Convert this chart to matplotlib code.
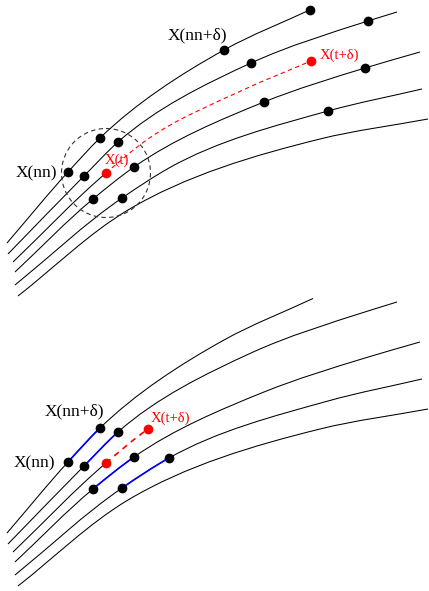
import numpy as np
import matplotlib
matplotlib.use("Agg")
import matplotlib.pyplot as plt
from matplotlib.path import Path
from matplotlib.patches import PathPatch, Circle

# trajectories, top-panel pixel coords (y down); bottom panel is the same shifted by 290
traj1_x = [7, 68, 100, 224, 313]
traj1_y = [243, 172, 138, 50, 8.5]
traj2_x = [8, 84, 118, 251, 368, 397]
traj2_y = [254, 176, 142, 63, 21, 12]
traj3_x = [13, 106, 148, 243, 311]   # trajectory of X(t)
traj3_y = [262, 173, 139, 90, 61]
traj4_x = [15, 93, 134, 264, 365, 420]
traj4_y = [272, 199, 167, 102, 68, 52]
traj5_x = [15, 122, 169, 328, 422]
traj5_y = [285, 198, 168, 111, 89]
traj6_x = [18, 128, 320, 428]
traj6_y = [296, 210, 139, 119]

# neighbours and their images
top_dots_x = [68, 100, 224, 310, 84, 118, 251, 368, 93, 134, 264, 365, 122, 328]
top_dots_y = [172, 138, 50, 10, 176, 142, 63, 21, 199, 167, 102, 68, 198, 111]
top_red_x = [106, 311]
top_red_y = [173, 61]
bot_dots_x = [68, 100, 84, 118, 93, 134, 122, 169]
bot_dots_y = [172, 138, 176, 142, 199, 167, 198, 168]
bot_red_x = [106, 148]
bot_red_y = [173, 139]

circle_center = (106, 173)
circle_radius = 44.5
panel_shift = 290

serif = ["Liberation Serif", "DejaVu Serif"]
red = "#ff0000"


def curve_path(xs, ys, i0=0, i1=None, dy=0):
    p = np.column_stack([xs, ys]).astype(float)
    t = np.concatenate([[0], np.cumsum(np.hypot(*np.diff(p, axis=0).T))])
    m = np.gradient(p, t, axis=0)
    if i1 is None:
        i1 = len(p) - 1
    verts = [p[i0]]
    codes = [Path.MOVETO]
    for i in range(i0, i1):
        h = t[i + 1] - t[i]
        verts += [p[i] + m[i] * h / 3, p[i + 1] - m[i + 1] * h / 3, p[i + 1]]
        codes += [Path.CURVE4] * 3
    verts = np.array(verts) + [0, dy]
    return Path(verts, codes)


def draw(ax, xs, ys, i0=0, i1=None, dy=0, **kw):
    ax.add_patch(PathPatch(curve_path(xs, ys, i0, i1, dy), fill=False, **kw))


fig = plt.figure(figsize=(4.29, 5.91), dpi=100)
ax = fig.add_axes([0, 0, 1, 1])
ax.set_xlim(0, 429)
ax.set_ylim(591, 0)
ax.axis("off")

black = dict(edgecolor="black", lw=0.75, zorder=1)
others = [(traj1_x, traj1_y), (traj2_x, traj2_y), (traj4_x, traj4_y),
          (traj5_x, traj5_y), (traj6_x, traj6_y)]

for dy in (0, panel_shift):
    for xs, ys in others:
        draw(ax, xs, ys, dy=dy, **black)
    draw(ax, traj3_x, traj3_y, 0, 1, dy=dy, **black)

# top panel
draw(ax, traj3_x, traj3_y, 1, None, edgecolor=red, lw=0.8,
     linestyle=(0, (4, 3)), zorder=2)
ax.add_patch(Circle(circle_center, circle_radius, fill=False, edgecolor="#333333",
                    lw=0.8, linestyle=(0, (4, 3)), zorder=2))
ax.plot(top_dots_x, top_dots_y, "o", color="black", ms=6, zorder=3)
ax.plot(top_red_x, top_red_y, "o", color=red, ms=6, zorder=3)
ax.text(197, 35, "X(nn+δ)", family=serif, fontsize=12.5, ha="center", va="center")
ax.text(36, 173, "X(nn)", family=serif, fontsize=12.5, ha="center", va="center")
ax.text(117, 160, "X(t)", family=serif, fontsize=10.5, color=red, ha="center", va="center")
ax.text(339, 55, "X(t+δ)", family=serif, fontsize=10.5, color=red, ha="center", va="center")

# bottom panel
for xs, ys in [(traj1_x, traj1_y), (traj2_x, traj2_y), (traj4_x, traj4_y), (traj5_x, traj5_y)]:
    draw(ax, xs, ys, 1, 2, dy=panel_shift, edgecolor="blue", lw=1.2, zorder=2)
draw(ax, traj3_x, traj3_y, 1, 2, dy=panel_shift, edgecolor=red, lw=1.2,
     linestyle=(0, (3.5, 3)), zorder=2)
ax.plot(bot_dots_x, np.array(bot_dots_y) + panel_shift, "o", color="black", ms=6, zorder=3)
ax.plot(bot_red_x, np.array(bot_red_y) + panel_shift, "o", color=red, ms=6, zorder=3)
ax.text(74, 411, "X(nn+δ)", family=serif, fontsize=12.5, ha="center", va="center")
ax.text(34, 463, "X(nn)", family=serif, fontsize=12.5, ha="center", va="center")
ax.text(170, 418, "X(t+δ)", family=serif, fontsize=10.5, color=red, ha="center", va="center")

fig.savefig("out.png", dpi=100)
